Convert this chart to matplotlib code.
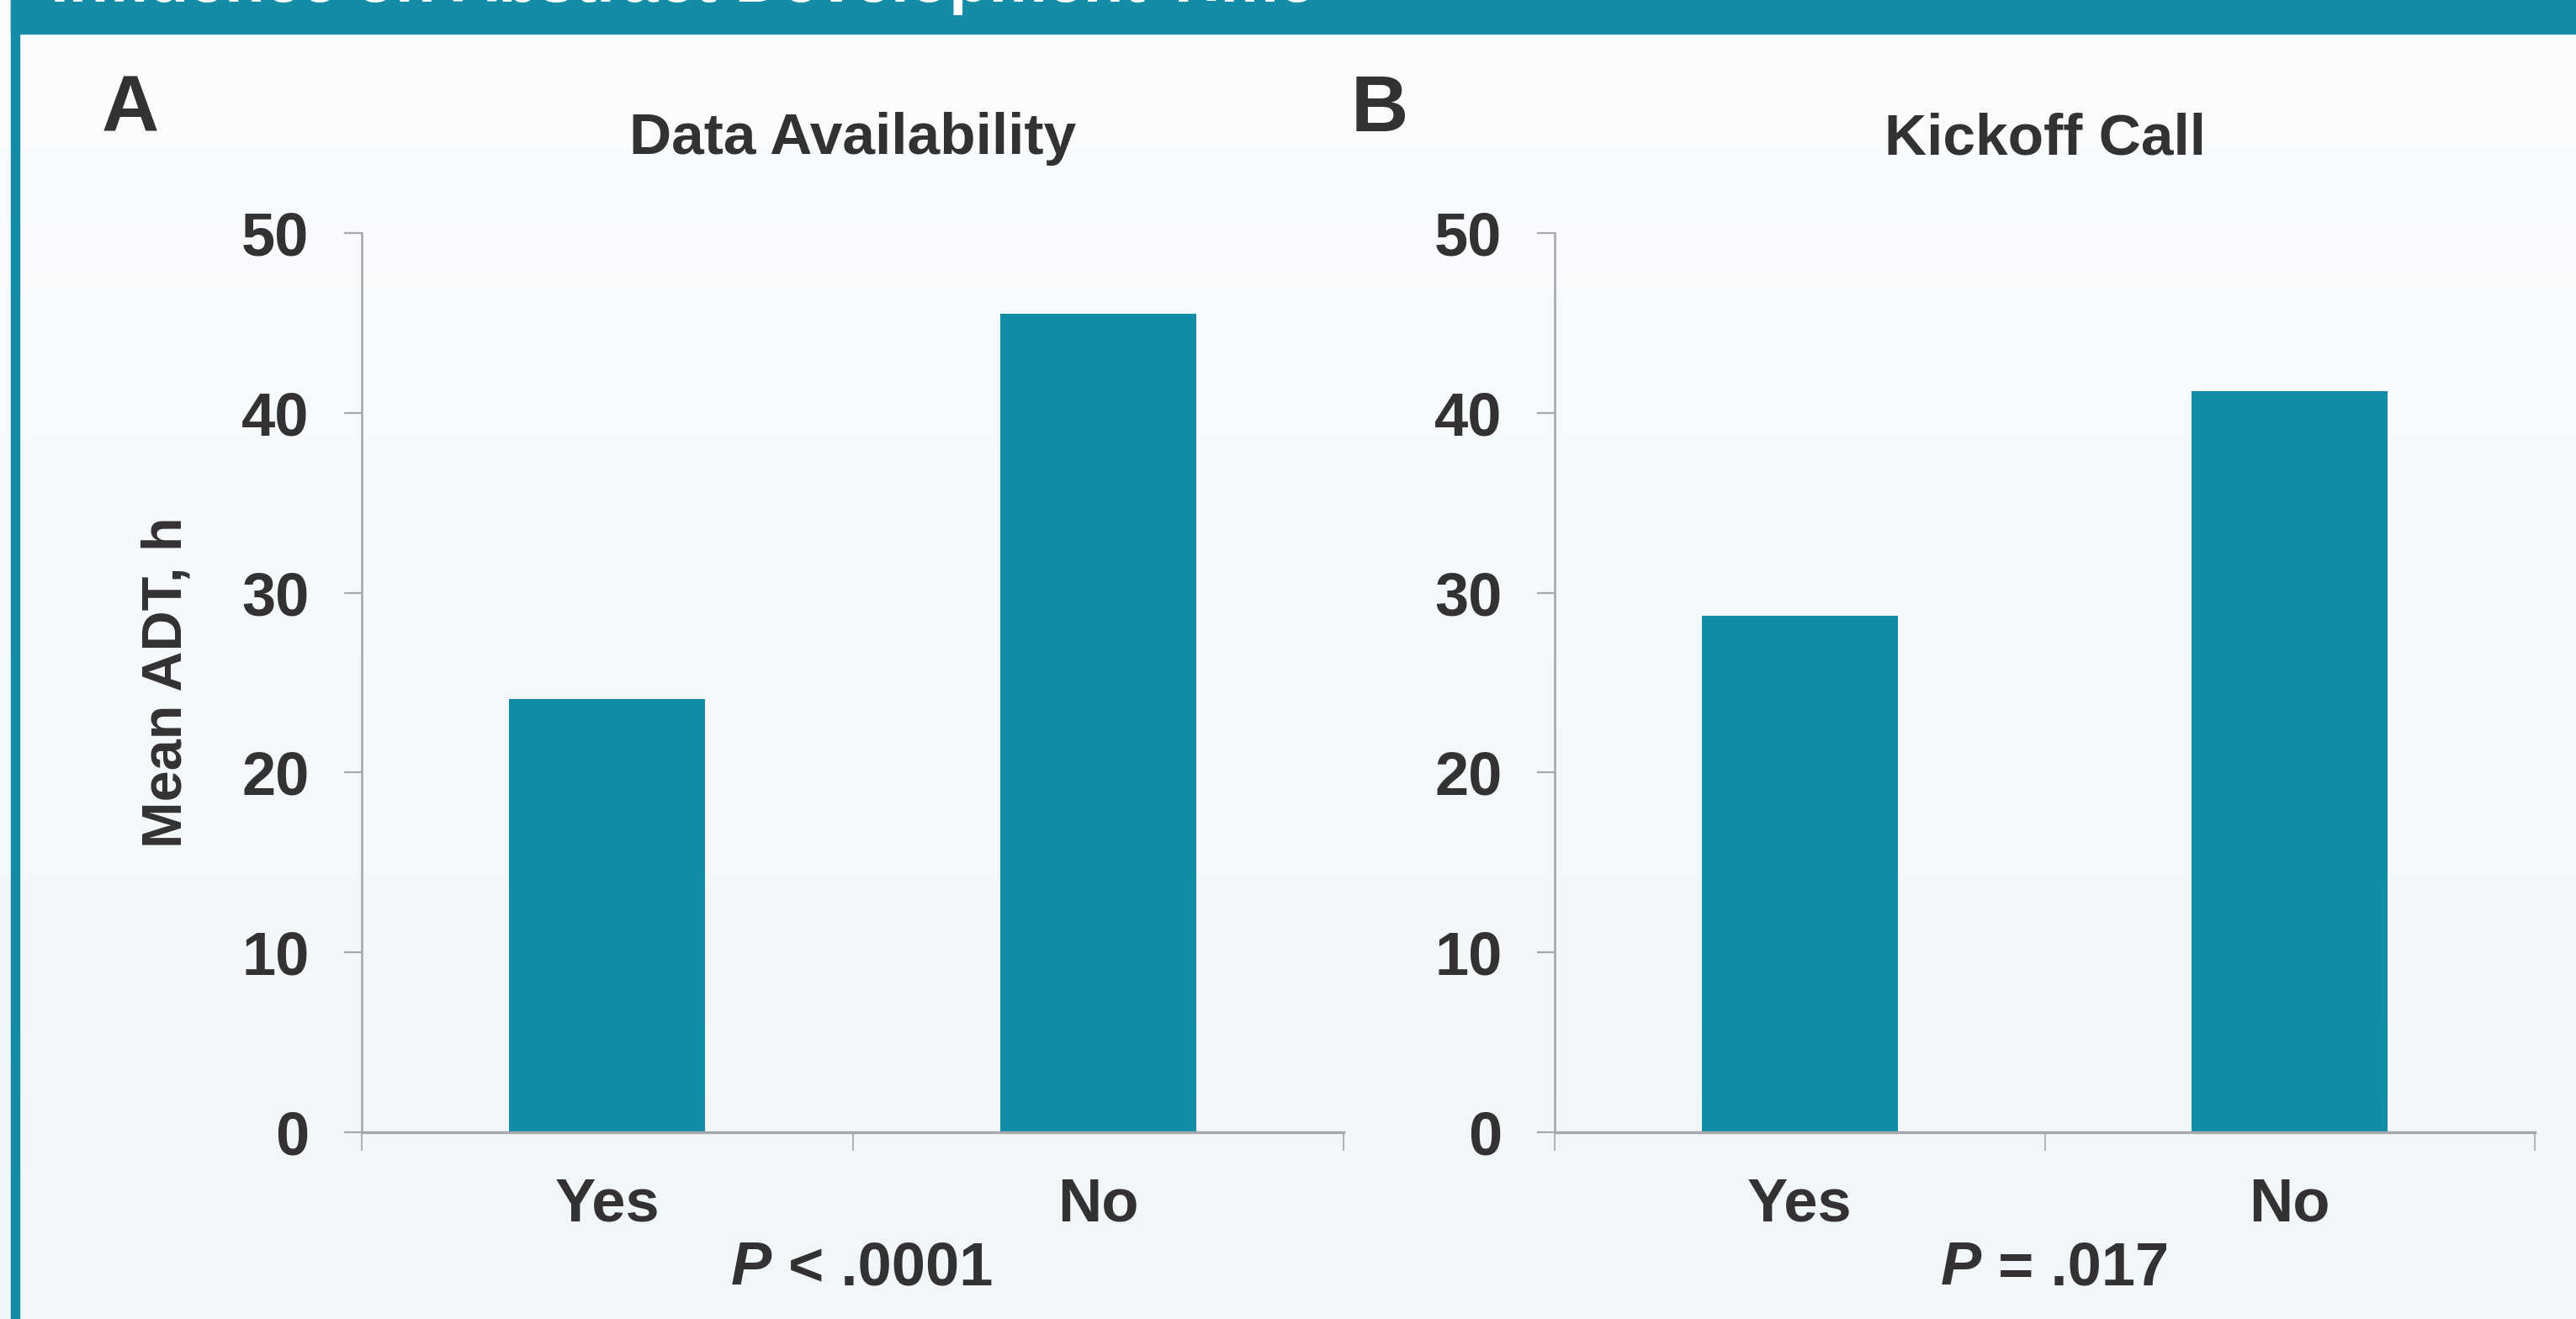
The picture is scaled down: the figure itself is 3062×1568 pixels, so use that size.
import numpy as np
import matplotlib
matplotlib.use('Agg')
import matplotlib.pyplot as plt
from matplotlib.patches import Rectangle

# data
categories = ['Yes', 'No']
panel_titles = ['Data Availability', 'Kickoff Call']
panel_letters = ['A', 'B']
mean_adt = [[24.1, 45.5], [28.7, 41.2]]
p_values = ['< .0001', '= .017']
yticks = [0, 10, 20, 30, 40, 50]

W, H = 3062, 1568
teal = '#138da6'
txt = '#333132'
gray = '#a6a8ab'

plt.rcParams['font.family'] = ['Liberation Sans', 'DejaVu Sans']
plt.rcParams['font.weight'] = 'bold'

fig = plt.figure(figsize=(W / 100, H / 100), dpi=100)

# background gradient
bg = fig.add_axes([0, 0, 1, 1], zorder=-10)
grad = np.linspace(0, 1, 256).reshape(-1, 1)
top = np.array([0xfa, 0xfc, 0xfe]) / 255
bot = np.array([0xf1, 0xf6, 0xf9]) / 255
img = top + (bot - top) * grad[:, :, None]
bg.imshow(img, aspect='auto', extent=[0, 1, 0, 1])
bg.set_xlim(0, 1)
bg.set_ylim(0, 1)
bg.axis('off')

def px(x, y):
    return x / W, 1 - y / H

# header band and left border
fig.patches.append(Rectangle((13 / W, 1 - 40 / H), 1, 40 / H, transform=fig.transFigure,
                             color='#148ca5', zorder=0))
fig.patches.append(Rectangle((13 / W, 0), 10 / W, 1, transform=fig.transFigure,
                             color='#148ca5', zorder=0))
fig.text(*px(60, 2), 'Influence on Abstract Development Time', color='white',
         fontsize=56, fontweight='bold', ha='left', va='baseline')

lefts = [430, 1848]
rights = [1597, 3013]
ax_top, ax_bot = 277, 1346
letter_x = [121, 1606]
p_x = [869, 2307]

for k in range(2):
    ax = fig.add_axes([lefts[k] / W, 1 - ax_bot / H, (rights[k] - lefts[k]) / W,
                       (ax_bot - ax_top) / H])
    ax.patch.set_alpha(0)
    ax.bar([0, 1], mean_adt[k], width=0.4, color=teal, zorder=2)
    ax.set_xlim(-0.5, 1.5)
    ax.set_ylim(0, 50)
    for s in ['top', 'right']:
        ax.spines[s].set_visible(False)
    ax.spines['left'].set_color(gray)
    ax.spines['left'].set_linewidth(1.9)
    ax.spines['bottom'].set_color(gray)
    ax.spines['bottom'].set_linewidth(2.4)
    ax.spines['bottom'].set_zorder(3)
    ax.set_yticks(yticks)
    ax.set_yticklabels([str(v) for v in yticks])
    ax.tick_params(axis='y', length=15, width=1.6, color=gray, pad=30,
                   labelsize=52, labelcolor=txt)
    ax.set_xticks([0, 1])
    ax.set_xticklabels(categories)
    ax.set_xticks([-0.5, 0.5, 1.5], minor=True)
    ax.tick_params(axis='x', which='major', length=0, pad=38, labelsize=52, labelcolor=txt)
    ax.tick_params(axis='x', which='minor', length=16, width=1.2, color=gray)
    for lab in ax.get_xticklabels() + ax.get_yticklabels():
        lab.set_fontweight('bold')

    cx = (lefts[k] + rights[k]) / 2
    fig.text(*px(cx, 183), panel_titles[k], color=txt, fontsize=50, fontweight='bold',
             ha='center', va='baseline')
    fig.text(*px(letter_x[k], 156), panel_letters[k], color=txt, fontsize=68,
             fontweight='bold', ha='left', va='baseline')
    tp = fig.text(*px(p_x[k], 1527), 'P', color=txt, fontsize=52, fontweight='bold',
                  fontstyle='italic', ha='left', va='baseline')
    fig.text(*px(p_x[k], 1527), '', fontsize=1)
    plt.annotate(' ' + p_values[k], xy=(1, 0), xycoords=tp, xytext=(0, 0),
                 textcoords='offset points', color=txt, fontsize=52, fontweight='bold',
                 ha='left', va='bottom', annotation_clip=False)

fig.text(*px(199, (ax_top + ax_bot) / 2), 'Mean ADT, h', color=txt, fontsize=48,
         fontweight='bold', rotation=90, ha='center', va='center')

fig.savefig('out.png', dpi=100)
